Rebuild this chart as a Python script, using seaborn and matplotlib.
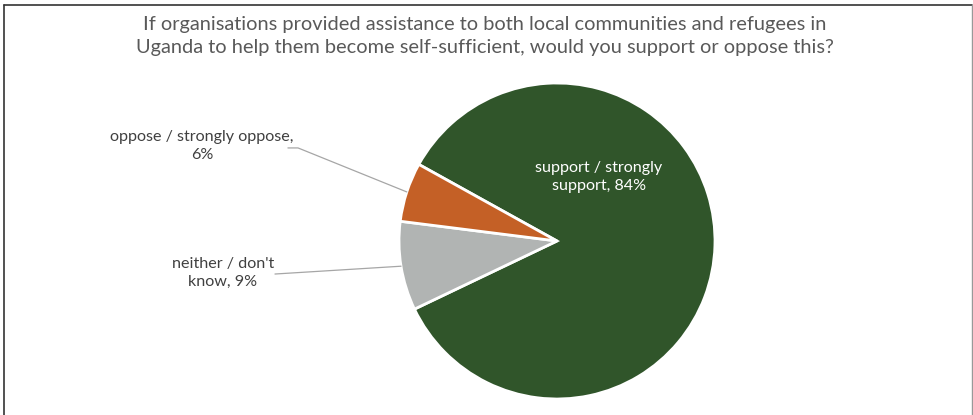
import numpy as np
import matplotlib
matplotlib.use("Agg")
import matplotlib.pyplot as plt
import seaborn as sns

# ==========================================================
# DATA
# ==========================================================
title = ("If organisations provided assistance to both local communities and refugees in\n"
         "Uganda to help them become self-sufficient, would you support or oppose this?")
categories = ["support / strongly\nsupport", "neither / don't\nknow", "oppose / strongly oppose,\n"]
values = [84, 9, 6]
colors = ["#30552A", "#B1B4B3", "#C46026"]

sns.set_theme(style="white")
plt.rcParams["font.family"] = ["Lato", "DejaVu Sans"]

W, H = 973, 415
fig = plt.figure(figsize=(W / 100, H / 100), dpi=100)

# pie: center (557, 241) px, radius 158 px
cx, cy, r = 557, 241, 158
ax = fig.add_axes([(cx - r) / W, (H - cy - r) / H, 2 * r / W, 2 * r / H])
wedges, _ = ax.pie(values, colors=colors, startangle=151, counterclock=False,
                   radius=1, wedgeprops=dict(edgecolor="white", linewidth=2))
ax.set_xlim(-1, 1)
ax.set_ylim(-1, 1)
ax.set_aspect("equal")
ax.axis("off")

pct = [f"{v}%" for v in values]
lab_fs = 11.6

# support label inside
ax.text(0.266, 0.405, f"{categories[0]}, {pct[0]}", color="white",
        ha="center", va="center", fontsize=lab_fs, linespacing=1.4)

def mid_point(w):
    a = np.deg2rad((w.theta1 + w.theta2) / 2)
    return np.cos(a), np.sin(a)

line_c = "#A6A6A6"
txt_c = "#404040"

# neither
mx, my = mid_point(wedges[1])
ax.text(-2.114, -0.203, f"{categories[1]}, {pct[1]}", color=txt_c,
        ha="center", va="center", fontsize=lab_fs, linespacing=1.4)
ax.plot([-1.785, mx], [-0.209, my], color=line_c, lw=0.9, clip_on=False)

# oppose
mx, my = mid_point(wedges[2])
ax.text(-2.247, 0.601, f"{categories[2]}{pct[2]}", color=txt_c,
        ha="center", va="center", fontsize=lab_fs, linespacing=1.4)
ax.plot([-1.703, -1.639, mx], [0.589, 0.589, my], color=line_c, lw=0.9, clip_on=False)

# title
fig.text(485 / W, 1 - 36 / H, title, ha="center", va="center",
         fontsize=14.4, color="#595959", linespacing=1.45)

# frame (no bottom edge)
fig.add_artist(plt.Line2D([4 / W, 4 / W], [0, 1 - 5 / H], color="#333333", lw=1.2))
fig.add_artist(plt.Line2D([4 / W, 972 / W], [1 - 5 / H, 1 - 5 / H], color="#333333", lw=1.2))
fig.add_artist(plt.Line2D([972 / W, 972 / W], [0, 1 - 5 / H], color="#999999", lw=1.0))

fig.savefig("out.png", dpi=100, facecolor="white")
